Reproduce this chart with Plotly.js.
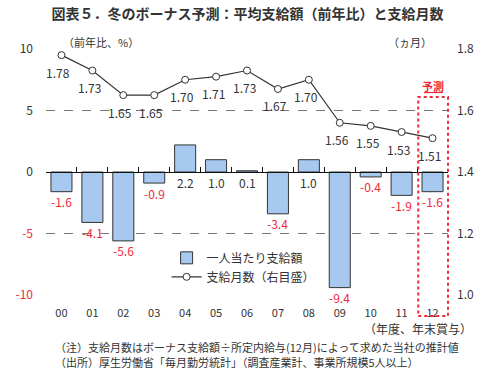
<!DOCTYPE html>
<html><head><meta charset="utf-8">
<script src="https://cdn.plot.ly/plotly-3.0.1.min.js"></script>
<style>body{margin:0;background:#fff}#c{width:500px;height:375px}</style>
</head><body><div id="c"></div>
<script>
var years = ['00','01','02','03','04','05','06','07','08','09','10','11','12'];
var payChange = [-1.6,-4.1,-5.6,-0.9,2.2,1.0,0.1,-3.4,1.0,-9.4,-0.4,-1.9,-1.6];
var months = [1.78,1.73,1.65,1.65,1.70,1.71,1.73,1.67,1.70,1.56,1.55,1.53,1.51];
var leftTicks = [-10,-5,0,5,10];
var rightTicks = [1.0,1.2,1.4,1.6,1.8];

var FONT = '"Noto Sans CJK JP", "Noto Sans", sans-serif';
var RED = '#F0283C';
var xs = years.map(function(_, i){ return i; });

var bar = {
  type:'bar', x: xs, y: payChange, name:'一人当たり支給額',
  marker:{color:'#A7C9F0', line:{color:'#333', width:1}},
  width:0.68, hoverinfo:'skip'
};
var line = {
  type:'scatter', mode:'lines+markers', x: xs, y: months, yaxis:'y2',
  name:'支給月数（右目盛）',
  line:{color:'#333', width:1.2},
  marker:{symbol:'circle', size:7, color:'#fff', line:{color:'#333', width:1}},
  hoverinfo:'skip'
};

function note(x, y, text, size, color, xanchor, bold){
  return {xref:'paper', yref:'paper', x:x, y:y, text: bold ? '<b>'+text+'</b>' : text, showarrow:false,
    xanchor: xanchor || 'center', yanchor:'middle',
    font:{family:FONT, size:size, color:color}};
}

var ann = [];
payChange.forEach(function(v, i){
  var neg = v < 0;
  ann.push({x:i, y: neg ? v : 0, xref:'x', yref:'y', text: v.toFixed(1), showarrow:false,
    yanchor:'middle', yshift:-10, font:{family:FONT, size:12, color: neg ? RED : '#333'}});
});
months.forEach(function(v, i){
  ann.push({x:i, y:v, xref:'x', yref:'y2', text: v.toFixed(2), showarrow:false,
    yanchor:'middle', yshift:-17, xshift:-3, font:{family:FONT, size:12, color:'#333'}});
});
ann.push(note(0.137, 1.028, '（前年比、%）', 11, '#333'));
ann.push(note(0.905, 1.028, '（ヵ月）', 11, '#333'));
ann.push(note(0.963, 0.85, '予測', 11, RED, 'center', true));
ann.push(note(1.065, -0.137, '（年度、年末賞与）', 12, '#333', 'right'));
ann.push(note(0.017, -0.212, '（注）支給月数はボーナス支給額÷所定内給与(12月)によって求めた当社の推計値', 11, '#333', 'left'));
ann.push(note(0.017, -0.273, '（出所）厚生労働省「毎月勤労統計」（調査産業計、事業所規模5人以上）', 11, '#333', 'left'));

var shapes = [
  {type:'rect', xref:'paper', yref:'paper', x0:0.926, x1:1.0, y0:-0.085, y1:0.805,
   line:{color:RED, width:2, dash:'dot'}, fillcolor:'rgba(0,0,0,0)'},
  {type:'line', xref:'paper', yref:'paper', x0:0.94, x1:0.987, y0:0.823, y1:0.823,
   line:{color:RED, width:1.2}}
];

var layout = {
  width:500, height:375,
  margin:{l:46, r:52, t:49, b:80},
  paper_bgcolor:'#fff', plot_bgcolor:'#fff',
  title:{text:'<b>図表５．冬のボーナス予測：平均支給額（前年比）と支給月数</b>', x:0.495, xanchor:'center', y:0.963, yanchor:'middle',
    font:{family:FONT, size:14, color:'#333'}},
  showlegend:true,
  legend:{x:0.3, y:0.21, xanchor:'left', yanchor:'top', bgcolor:'rgba(0,0,0,0)',
    font:{family:FONT, size:12, color:'#333'}, itemwidth:30, tracegroupgap:0},
  bargap:0.3,
  xaxis:{range:[-0.5,12.5], tickvals:xs, ticktext:years, showgrid:false, zeroline:false,
    showline:false, ticks:'', ticklabelstandoff:10, tickfont:{family:FONT, size:11, color:'#333'}, fixedrange:true},
  xaxis2:{overlaying:'x', anchor:'free', position:0.5, range:[-0.5,12.5],
    tickvals:[-0.5,0.5,1.5,2.5,3.5,4.5,5.5,6.5,7.5,8.5,9.5,10.5,11.5,12.5],
    ticks:'inside', ticklen:5, tickcolor:'#111', tickwidth:1, showticklabels:false,
    showline:true, linecolor:'#111', linewidth:1.2, showgrid:false, zeroline:false},
  yaxis:{range:[-10,10], tickvals:leftTicks,
    ticktext:leftTicks.map(function(t){ return t < 0 ? '<span style="color:'+RED+'">'+t+'</span>' : String(t); }),
    showgrid:true, gridcolor:'#777', griddash:'dash', gridwidth:1, zeroline:false, showline:false,
    ticks:'', ticklabelstandoff:12, tickfont:{family:FONT, size:12, color:'#333'}},
  yaxis2:{overlaying:'y', side:'right', range:[1.0,1.8], tickvals:rightTicks,
    ticktext:rightTicks.map(function(t){ return t.toFixed(1); }),
    showgrid:false, zeroline:false, showline:false, ticks:'', ticklabelstandoff:8,
    tickfont:{family:FONT, size:12, color:'#333'}},
  annotations:ann, shapes:shapes
};
var axisTrace = {type:'scatter', x:[], y:[], xaxis:'x2', showlegend:false, hoverinfo:'skip'};
Plotly.newPlot('c', [bar, line, axisTrace], layout, {displayModeBar:false, staticPlot:true});
</script></body></html>
